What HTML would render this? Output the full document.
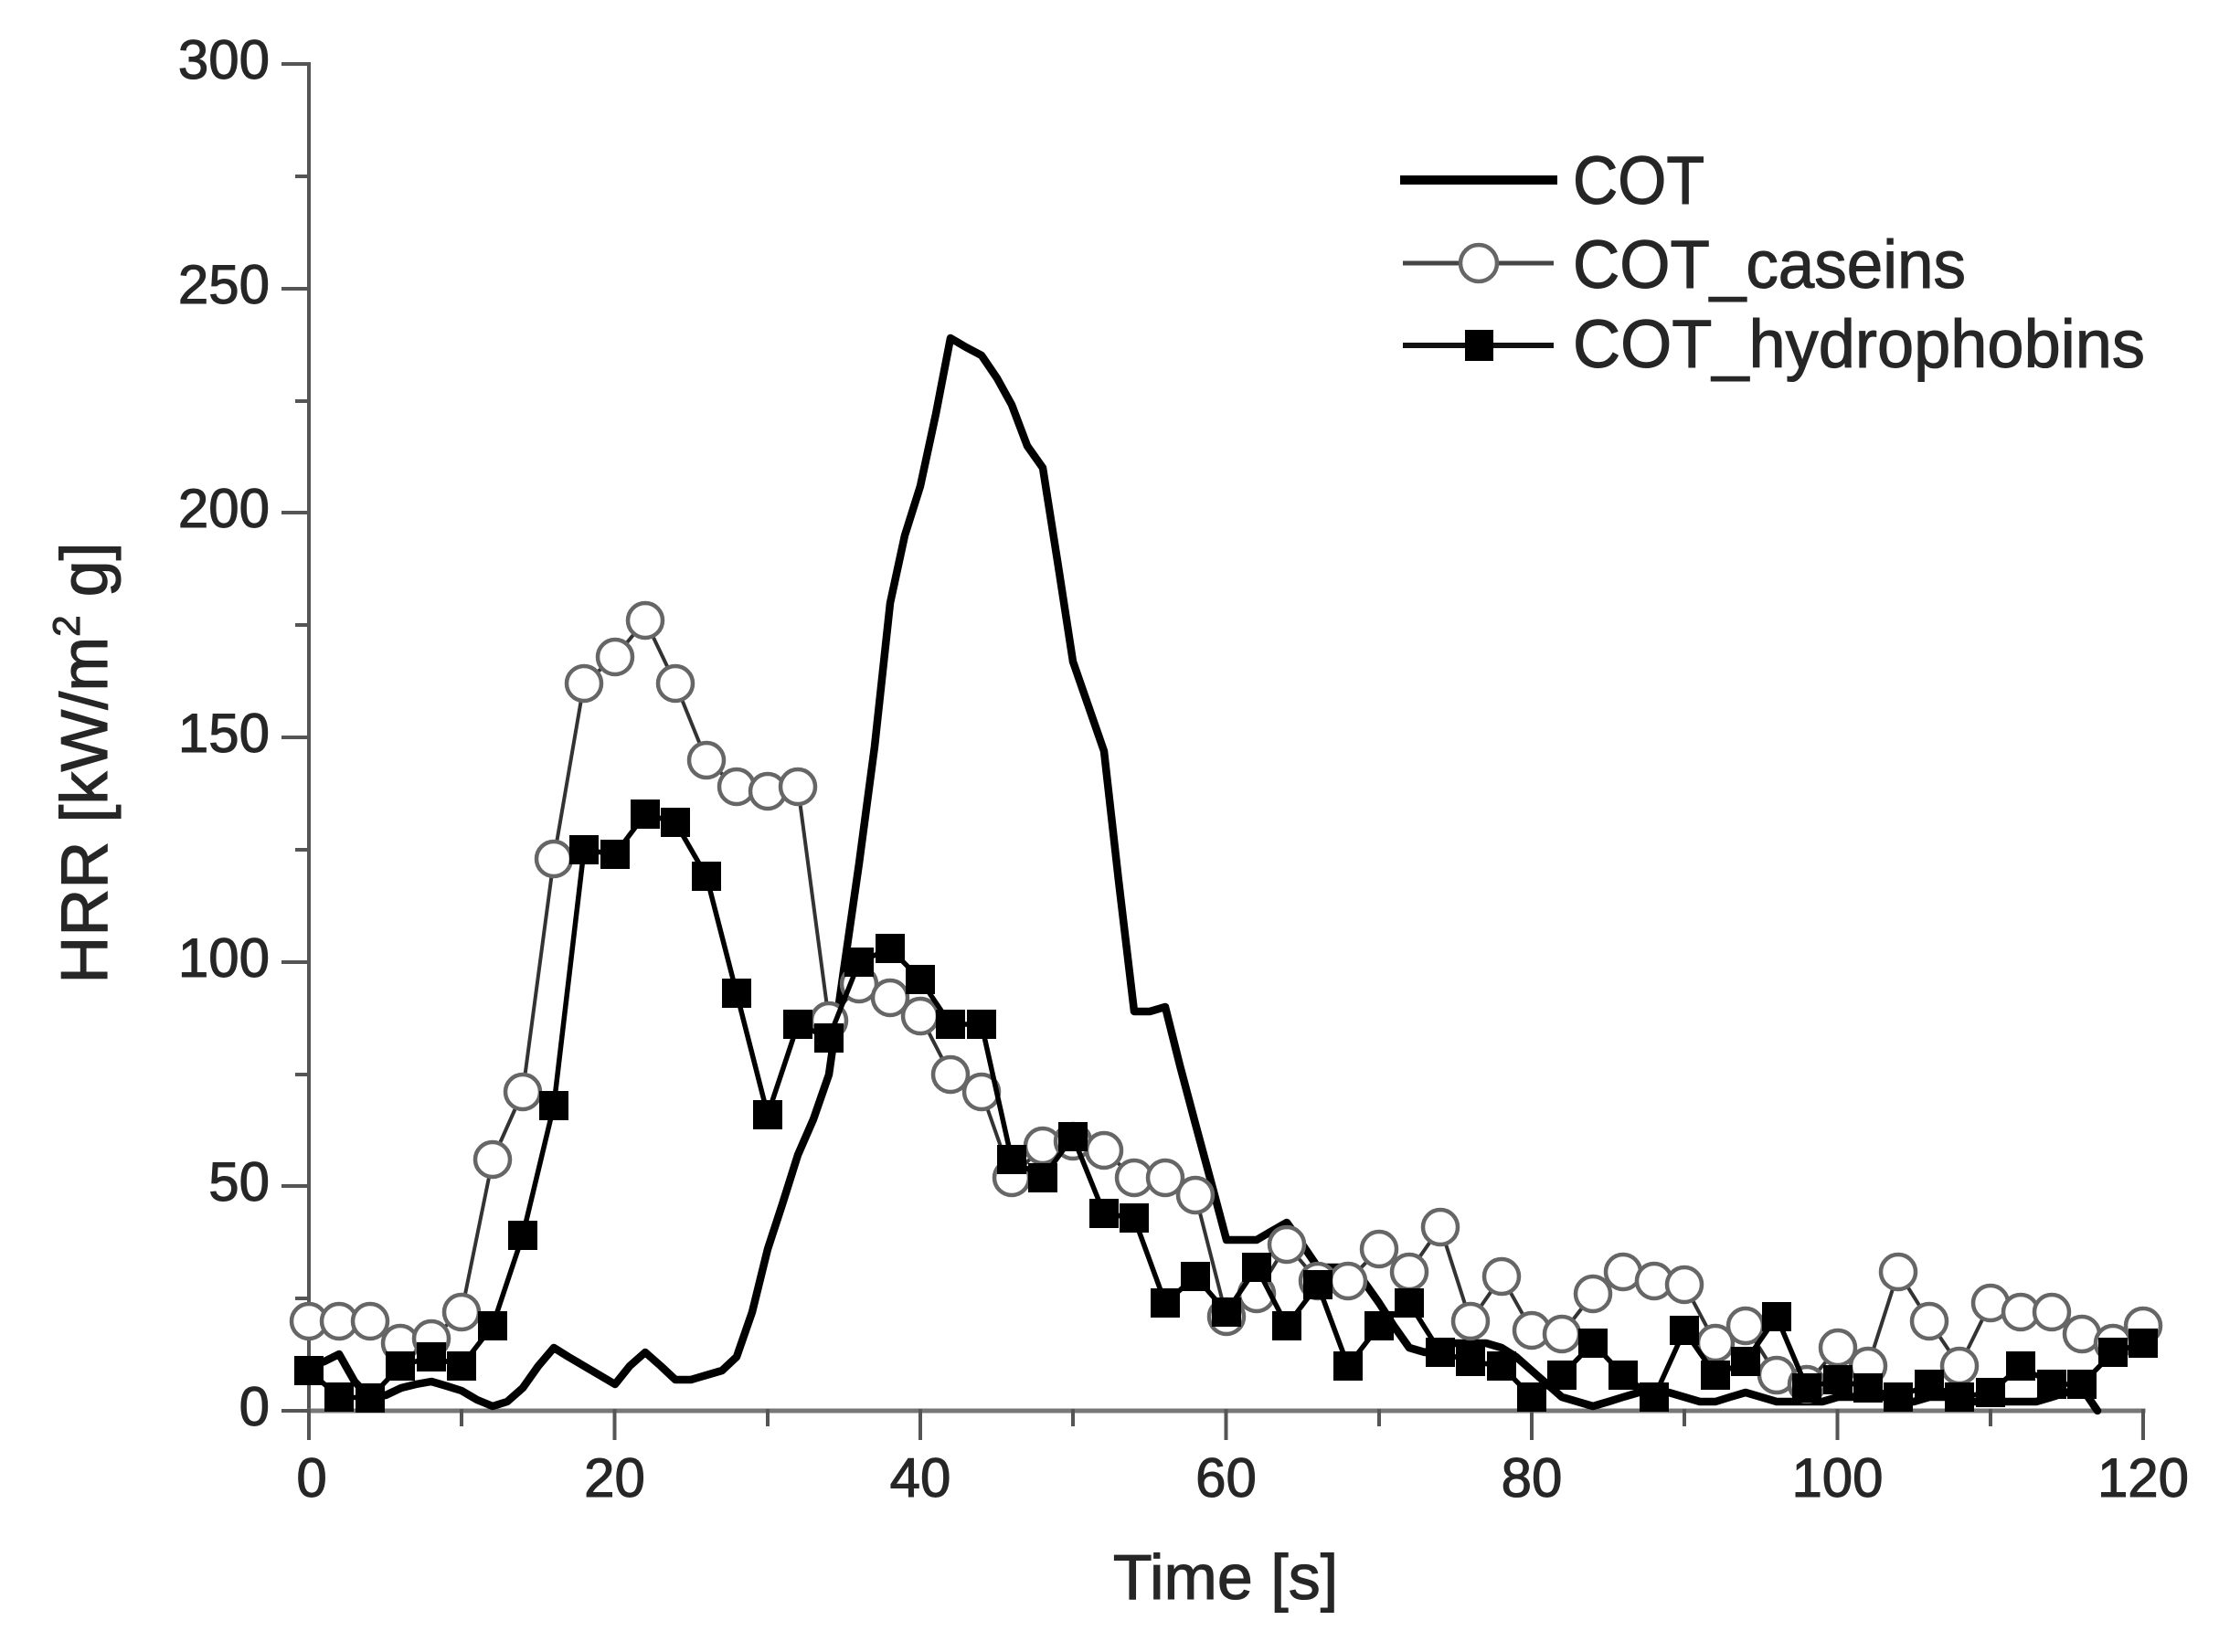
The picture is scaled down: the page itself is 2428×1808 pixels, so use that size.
<!DOCTYPE html>
<html>
<head>
<meta charset="utf-8">
<style>
html,body{margin:0;padding:0;background:#fff;}
svg{display:block;}
text{font-family:"Liberation Sans",Arial,sans-serif;fill:#262626;stroke:#262626;stroke-width:1.1;}
</style>
</head>
<body>
<svg width="2428" height="1808" viewBox="0 0 2428 1808" xmlns="http://www.w3.org/2000/svg">
<rect width="2428" height="1808" fill="#fff"/>

<!-- Axes -->
<g stroke="#555" stroke-width="4" fill="none" stroke-linecap="square">
  <line x1="338" y1="70" x2="338" y2="1544"/>
  <line x1="338" y1="1544" x2="2345" y2="1544" stroke="#777" stroke-width="5"/>
  <line x1="310" y1="1544" x2="338" y2="1544"/>
  <line x1="310" y1="1298" x2="338" y2="1298"/>
  <line x1="310" y1="1053" x2="338" y2="1053"/>
  <line x1="310" y1="807" x2="338" y2="807"/>
  <line x1="310" y1="561" x2="338" y2="561"/>
  <line x1="310" y1="316" x2="338" y2="316"/>
  <line x1="310" y1="70" x2="338" y2="70"/>
  <line x1="325" y1="1421" x2="338" y2="1421"/>
  <line x1="325" y1="1176" x2="338" y2="1176"/>
  <line x1="325" y1="930" x2="338" y2="930"/>
  <line x1="325" y1="684" x2="338" y2="684"/>
  <line x1="325" y1="439" x2="338" y2="439"/>
  <line x1="325" y1="193" x2="338" y2="193"/>
  <line x1="338" y1="1544" x2="338" y2="1574"/>
  <line x1="672.5" y1="1544" x2="672.5" y2="1574"/>
  <line x1="1007" y1="1544" x2="1007" y2="1574"/>
  <line x1="1341.5" y1="1544" x2="1341.5" y2="1574"/>
  <line x1="1676" y1="1544" x2="1676" y2="1574"/>
  <line x1="2010.5" y1="1544" x2="2010.5" y2="1574"/>
  <line x1="2345" y1="1544" x2="2345" y2="1574"/>
  <line x1="505" y1="1544" x2="505" y2="1559"/>
  <line x1="840" y1="1544" x2="840" y2="1559"/>
  <line x1="1174" y1="1544" x2="1174" y2="1559"/>
  <line x1="1509" y1="1544" x2="1509" y2="1559"/>
  <line x1="1843" y1="1544" x2="1843" y2="1559"/>
  <line x1="2178" y1="1544" x2="2178" y2="1559"/>
</g>

<!-- Y tick labels -->
<g font-size="60" text-anchor="end">
  <text x="295" y="1560">0</text>
  <text x="295" y="1314">50</text>
  <text x="295" y="1069">100</text>
  <text x="295" y="823">150</text>
  <text x="295" y="577">200</text>
  <text x="295" y="332">250</text>
  <text x="295" y="86">300</text>
</g>
<!-- X tick labels -->
<g font-size="60" text-anchor="middle">
  <text x="341" y="1638">0</text>
  <text x="672.5" y="1638">20</text>
  <text x="1007" y="1638">40</text>
  <text x="1341.5" y="1638">60</text>
  <text x="1676" y="1638">80</text>
  <text x="2010.5" y="1638">100</text>
  <text x="2345" y="1638">120</text>
</g>

<!-- Axis titles -->
<text x="1341" y="1750" font-size="70" text-anchor="middle">Time [s]</text>
<text transform="translate(117,835) rotate(-90)" font-size="72" text-anchor="middle">HRR [kW/m<tspan font-size="42" dy="-30">2</tspan><tspan dy="30"> g]</tspan></text>

<!-- COT series (thick line) -->
<polyline fill="none" stroke="#000" stroke-width="8.5" stroke-linejoin="round" stroke-linecap="round"
points="338,1495 355,1490 371,1482 388,1512 405,1530 422,1527 439,1519 455,1515 472,1512 489,1517 505,1522 522,1532 539,1539 555,1534 572,1519 589,1495 606,1475 622,1485 639,1495 656,1505 673,1515 689,1495 706,1480 723,1495 739,1510 756,1510 773,1505 790,1500 806,1485 823,1436 840,1367 856,1318 873,1264 890,1225 907,1176 923,1063 940,945 957,817 974,660 990,586 1007,532 1024,453 1040,370 1057,380 1074,389 1091,414 1107,443 1124,488 1141,512 1158,620 1174,724 1191,773 1208,822 1224,964 1241,1107 1258,1107 1275,1102 1291,1166 1308,1230 1325,1293 1342,1357 1358,1357 1375,1357 1392,1347 1408,1338 1425,1362 1442,1387 1459,1387 1475,1387 1492,1402 1509,1426 1525,1451 1542,1475 1559,1480 1576,1475 1592,1470 1609,1470 1626,1470 1643,1475 1659,1485 1676,1500 1693,1515 1709,1529 1726,1534 1743,1539 1760,1534 1776,1529 1793,1524 1810,1524 1826,1524 1843,1529 1860,1534 1877,1534 1893,1529 1910,1524 1927,1529 1944,1534 1960,1534 1977,1534 1994,1534 2011,1529 2027,1529 2044,1524 2061,1529 2077,1534 2094,1534 2111,1529 2128,1529 2144,1534 2161,1534 2178,1534 2194,1534 2211,1534 2228,1534 2245,1529 2261,1524 2278,1519 2295,1544"/>

<!-- Caseins series (open circles) -->
<polyline fill="none" stroke="#333" stroke-width="4" stroke-linejoin="round"
points="338,1446 371,1446 405,1446 438,1470 472,1465 505,1436 539,1269 572,1195 606,940 639,748 673,719 706,679 739,748 773,832 806,861 840,866 873,861 907,1117 940,1077 974,1092 1007,1112 1040,1176 1074,1195 1107,1289 1141,1254 1174,1249 1208,1259 1241,1289 1275,1289 1308,1308 1342,1441 1375,1416 1408,1362 1442,1402 1475,1402 1509,1367 1542,1392 1576,1343 1609,1446 1643,1397 1676,1456 1709,1460 1743,1416 1776,1392 1810,1402 1843,1406 1877,1470 1910,1451 1944,1505 1977,1515 2011,1475 2044,1495 2077,1392 2111,1446 2144,1495 2178,1426 2211,1436 2245,1436 2278,1460 2312,1470 2345,1451"/>
<g fill="#fff" stroke="#666" stroke-width="4.5">
<circle cx="338" cy="1446" r="19"/><circle cx="371" cy="1446" r="19"/><circle cx="405" cy="1446" r="19"/><circle cx="438" cy="1470" r="19"/><circle cx="472" cy="1465" r="19"/><circle cx="505" cy="1436" r="19"/><circle cx="539" cy="1269" r="19"/><circle cx="572" cy="1195" r="19"/><circle cx="606" cy="940" r="19"/><circle cx="639" cy="748" r="19"/><circle cx="673" cy="719" r="19"/><circle cx="706" cy="679" r="19"/><circle cx="739" cy="748" r="19"/><circle cx="773" cy="832" r="19"/><circle cx="806" cy="861" r="19"/><circle cx="840" cy="866" r="19"/><circle cx="873" cy="861" r="19"/><circle cx="907" cy="1117" r="19"/><circle cx="940" cy="1077" r="19"/><circle cx="974" cy="1092" r="19"/><circle cx="1007" cy="1112" r="19"/><circle cx="1040" cy="1176" r="19"/><circle cx="1074" cy="1195" r="19"/><circle cx="1107" cy="1289" r="19"/><circle cx="1141" cy="1254" r="19"/><circle cx="1174" cy="1249" r="19"/><circle cx="1208" cy="1259" r="19"/><circle cx="1241" cy="1289" r="19"/><circle cx="1275" cy="1289" r="19"/><circle cx="1308" cy="1308" r="19"/><circle cx="1342" cy="1441" r="19"/><circle cx="1375" cy="1416" r="19"/><circle cx="1408" cy="1362" r="19"/><circle cx="1442" cy="1402" r="19"/><circle cx="1475" cy="1402" r="19"/><circle cx="1509" cy="1367" r="19"/><circle cx="1542" cy="1392" r="19"/><circle cx="1576" cy="1343" r="19"/><circle cx="1609" cy="1446" r="19"/><circle cx="1643" cy="1397" r="19"/><circle cx="1676" cy="1456" r="19"/><circle cx="1709" cy="1460" r="19"/><circle cx="1743" cy="1416" r="19"/><circle cx="1776" cy="1392" r="19"/><circle cx="1810" cy="1402" r="19"/><circle cx="1843" cy="1406" r="19"/><circle cx="1877" cy="1470" r="19"/><circle cx="1910" cy="1451" r="19"/><circle cx="1944" cy="1505" r="19"/><circle cx="1977" cy="1515" r="19"/><circle cx="2011" cy="1475" r="19"/><circle cx="2044" cy="1495" r="19"/><circle cx="2077" cy="1392" r="19"/><circle cx="2111" cy="1446" r="19"/><circle cx="2144" cy="1495" r="19"/><circle cx="2178" cy="1426" r="19"/><circle cx="2211" cy="1436" r="19"/><circle cx="2245" cy="1436" r="19"/><circle cx="2278" cy="1460" r="19"/><circle cx="2312" cy="1470" r="19"/><circle cx="2345" cy="1451" r="19"/>
</g>

<!-- Hydrophobins series (filled squares) -->
<polyline fill="none" stroke="#000" stroke-width="5.5" stroke-linejoin="round"
points="338,1500 371,1529 405,1530 438,1495 472,1485 505,1495 539,1451 572,1352 606,1210 639,930 673,935 706,891 739,900 773,959 806,1087 840,1220 873,1121 907,1136 940,1053 974,1038 1007,1072 1040,1121 1074,1121 1107,1269 1141,1289 1174,1244 1208,1328 1241,1333 1275,1426 1308,1397 1342,1436 1375,1387 1408,1451 1442,1406 1475,1495 1509,1451 1542,1426 1576,1480 1609,1490 1643,1495 1676,1529 1709,1505 1743,1470 1776,1505 1810,1529 1843,1456 1877,1505 1910,1490 1944,1441 1977,1519 2011,1510 2044,1519 2077,1529 2111,1515 2144,1529 2178,1524 2211,1495 2245,1515 2278,1515 2312,1480 2345,1470"/>
<g fill="#000" transform="translate(-16,-16)">
<rect x="338" y="1500" width="32" height="32"/><rect x="371" y="1529" width="32" height="32"/><rect x="405" y="1530" width="32" height="32"/><rect x="438" y="1495" width="32" height="32"/><rect x="472" y="1485" width="32" height="32"/><rect x="505" y="1495" width="32" height="32"/><rect x="539" y="1451" width="32" height="32"/><rect x="572" y="1352" width="32" height="32"/><rect x="606" y="1210" width="32" height="32"/><rect x="639" y="930" width="32" height="32"/><rect x="673" y="935" width="32" height="32"/><rect x="706" y="891" width="32" height="32"/><rect x="739" y="900" width="32" height="32"/><rect x="773" y="959" width="32" height="32"/><rect x="806" y="1087" width="32" height="32"/><rect x="840" y="1220" width="32" height="32"/><rect x="873" y="1121" width="32" height="32"/><rect x="907" y="1136" width="32" height="32"/><rect x="940" y="1053" width="32" height="32"/><rect x="974" y="1038" width="32" height="32"/><rect x="1007" y="1072" width="32" height="32"/><rect x="1040" y="1121" width="32" height="32"/><rect x="1074" y="1121" width="32" height="32"/><rect x="1107" y="1269" width="32" height="32"/><rect x="1141" y="1289" width="32" height="32"/><rect x="1174" y="1244" width="32" height="32"/><rect x="1208" y="1328" width="32" height="32"/><rect x="1241" y="1333" width="32" height="32"/><rect x="1275" y="1426" width="32" height="32"/><rect x="1308" y="1397" width="32" height="32"/><rect x="1342" y="1436" width="32" height="32"/><rect x="1375" y="1387" width="32" height="32"/><rect x="1408" y="1451" width="32" height="32"/><rect x="1442" y="1406" width="32" height="32"/><rect x="1475" y="1495" width="32" height="32"/><rect x="1509" y="1451" width="32" height="32"/><rect x="1542" y="1426" width="32" height="32"/><rect x="1576" y="1480" width="32" height="32"/><rect x="1609" y="1490" width="32" height="32"/><rect x="1643" y="1495" width="32" height="32"/><rect x="1676" y="1529" width="32" height="32"/><rect x="1709" y="1505" width="32" height="32"/><rect x="1743" y="1470" width="32" height="32"/><rect x="1776" y="1505" width="32" height="32"/><rect x="1810" y="1529" width="32" height="32"/><rect x="1843" y="1456" width="32" height="32"/><rect x="1877" y="1505" width="32" height="32"/><rect x="1910" y="1490" width="32" height="32"/><rect x="1944" y="1441" width="32" height="32"/><rect x="1977" y="1519" width="32" height="32"/><rect x="2011" y="1510" width="32" height="32"/><rect x="2044" y="1519" width="32" height="32"/><rect x="2077" y="1529" width="32" height="32"/><rect x="2111" y="1515" width="32" height="32"/><rect x="2144" y="1529" width="32" height="32"/><rect x="2178" y="1524" width="32" height="32"/><rect x="2211" y="1495" width="32" height="32"/><rect x="2245" y="1515" width="32" height="32"/><rect x="2278" y="1515" width="32" height="32"/><rect x="2312" y="1480" width="32" height="32"/><rect x="2345" y="1470" width="32" height="32"/>
</g>

<!-- Legend -->
<line x1="1532" y1="197" x2="1704" y2="197" stroke="#000" stroke-width="10"/>
<line x1="1535" y1="288" x2="1700" y2="288" stroke="#444" stroke-width="5"/>
<circle cx="1618" cy="288" r="20" fill="#fff" stroke="#666" stroke-width="4.5"/>
<line x1="1535" y1="378" x2="1700" y2="378" stroke="#111" stroke-width="6"/>
<rect x="1603" y="361" width="31" height="34" fill="#000"/>
<g font-size="74">
  <text x="1721" y="223" textLength="144" lengthAdjust="spacingAndGlyphs">COT</text>
  <text x="1721" y="315" textLength="430" lengthAdjust="spacingAndGlyphs">COT_caseins</text>
  <text x="1721" y="402" textLength="626" lengthAdjust="spacingAndGlyphs">COT_hydrophobins</text>
</g>
</svg>
</body>
</html>
